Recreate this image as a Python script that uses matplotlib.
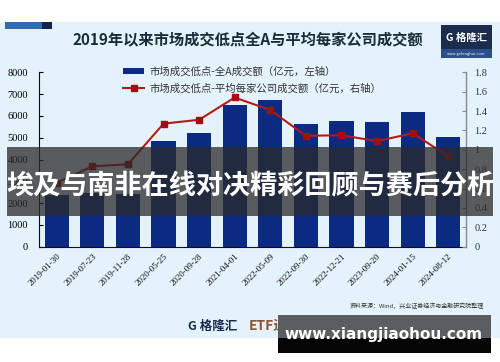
import matplotlib
matplotlib.use("Agg")
from matplotlib import pyplot as plt
from matplotlib.patches import Rectangle
from matplotlib.lines import Line2D

plt.rcParams['font.family'] = ['Noto Sans CJK SC', 'DejaVu Sans']

# data
dates = ["2019-01-30", "2019-07-23", "2019-11-28", "2020-05-25", "2020-09-28", "2021-04-01",
         "2022-05-09", "2022-09-30", "2022-12-21", "2023-09-20", "2024-01-15", "2024-08-12"]
turnover_all = [2350, 2450, 2400, 4870, 5230, 6500, 6750, 5650, 5770, 5740, 6200, 5010]
turnover_avg = [0.66, 0.83, 0.85, 1.27, 1.31, 1.54, 1.41, 1.145, 1.15, 1.09, 1.17, 0.935]

bar_label = "市场成交低点-全A成交额（亿元，左轴）"
line_label = "市场成交低点-平均每家公司成交额（亿元，右轴）"
title = "2019年以来市场成交低点全A与平均每家公司成交额"
source = "资料来源：Wind，兴业证券经济与金融研究院整理"
banner = "埃及与南非在线对决精彩回顾与赛后分析"
watermark = "www.xiangjiaohou.com"

W, H = 500, 362
fig = plt.figure(figsize=(5, 3.62), dpi=100)


def box(x0, y0, x1, y1, **kw):
    # pixel coords (top-left origin) -> figure rectangle
    fig.add_artist(Rectangle((x0 / W, 1 - y1 / H), (x1 - x0) / W, (y1 - y0) / H,
                             transform=fig.transFigure, **kw))


def txt(x, y, s, **kw):
    fig.text(x / W, 1 - y / H, s, **kw)


# background panel
box(0, 22, W, 338, facecolor="#e3f2fb", edgecolor="none", zorder=0)
box(5, 22, 42, 29, facecolor="#2e6db4", edgecolor="none", zorder=1)
box(42, 22, 52, 29, facecolor="#14234a", edgecolor="none", zorder=1)

txt(248, 40, title, ha="center", va="center", fontsize=11, fontweight="bold", color="#1c2b3a")

# logo box top right
box(441, 25, 492, 58, facecolor="#1b2c4c", edgecolor="none", zorder=1)
box(441, 49, 492, 58, facecolor="#2a4f8a", edgecolor="none", zorder=2)
txt(466, 38, "G 格隆汇", ha="center", va="center", fontsize=7.5, fontweight="bold", color="white", zorder=3)
txt(466, 53.5, "www.gelonghui.com", ha="center", va="center", fontsize=2.8, color="white", zorder=3)

ax = fig.add_axes([39 / W, 1 - 246.7 / H, 427 / W, (246.7 - 72.3) / H])
ax.patch.set_alpha(0)
ax2 = ax.twinx()

x = list(range(len(dates)))
ax.bar(x, turnover_all, width=0.68, color="#0b2a82", zorder=2)
ax2.plot(x, turnover_avg, color="#b51a1a", lw=1.5, marker="s", markersize=5,
         markerfacecolor="#a01010", markeredgecolor="#a01010", zorder=3)

ax.set_xlim(-0.5, len(dates) - 0.5)
ax.set_ylim(0, 8000)
ax.set_yticks(range(0, 8001, 1000))
ax2.set_ylim(0, 1.8)
r_ticks = [0, 0.2, 0.4, 0.6, 0.8, 1, 1.2, 1.4, 1.6, 1.8]
ax2.set_yticks(r_ticks)
ax2.set_yticklabels(["{:g}".format(t) for t in r_ticks])

serif = "Liberation Serif"
ax.set_xticks(x)
ax.set_xticklabels(dates, rotation=45, ha="right", rotation_mode="anchor",
                   fontsize=6.5, family=serif, color="#111111")
ax.tick_params(axis="x", length=0, pad=4)
ax.tick_params(axis="y", direction="in", length=3, labelsize=7.5, pad=8)
ax2.tick_params(axis="y", direction="in", length=3, labelsize=7.5, pad=6,
                color="#888888", labelcolor="#333333")
for lab in ax.get_yticklabels() + ax2.get_yticklabels():
    lab.set_family(serif)

for a in (ax, ax2):
    a.spines["top"].set_visible(False)
ax.spines["left"].set_color("#111111")
ax.spines["bottom"].set_color("#111111")
ax2.spines["right"].set_color("#888888")
ax2.spines["left"].set_visible(False)
ax2.spines["bottom"].set_visible(False)

handles = [Rectangle((0, 0), 1, 1, facecolor="#0b2a82"),
           Line2D([], [], color="#b51a1a", lw=1.5, marker="s", markersize=5,
                  markerfacecolor="#a01010", markeredgecolor="#a01010")]
ax.legend(handles, [bar_label, line_label], loc="upper left",
          bbox_to_anchor=((118 - 39) / 427, 1.065), frameon=False,
          fontsize=7.5, handlelength=2.0, handleheight=0.55, labelspacing=0.65,
          handletextpad=0.5, borderpad=0, labelcolor="#333333")

txt(484, 306, source, ha="right", va="center", fontsize=4.3, color="#333333")

# bottom logo
txt(213, 326, "G 格隆汇", ha="center", va="center", fontsize=9, fontweight="bold", color="#1b2c4c")
box(242.5, 316, 243.3, 336, facecolor="#c8d3dc", edgecolor="none", zorder=1)
txt(249, 326, "ETF进化论", ha="left", va="center", fontsize=10, fontweight="bold", color="#8b5530")

# overlay banner
box(7, 147, 493, 216, facecolor="#2a2a2a", alpha=0.75, edgecolor="none", zorder=10)
txt(250, 186, banner, ha="center", va="center", fontsize=19.5, fontweight="bold",
    color="white", zorder=11)

# watermark
box(278, 315, 491, 338, facecolor="#5a5e60", edgecolor="none", zorder=10)
box(278, 338, 491, 353, facecolor="#050505", edgecolor="none", zorder=10)
txt(384, 334, watermark, ha="center", va="center", fontsize=11, fontweight="bold",
    color="white", zorder=11, family="DejaVu Sans")

fig.savefig("out.png", dpi=100)
